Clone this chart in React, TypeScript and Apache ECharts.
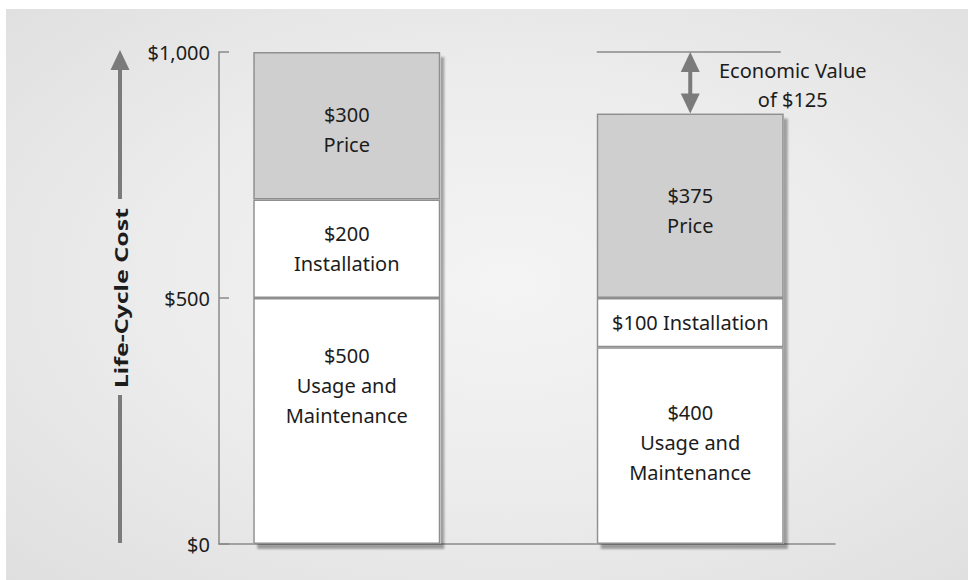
import React, { useEffect, useRef } from 'react';
import * as echarts from 'echarts';

const categories = ['Competitor', 'Our Product'];
const usageValues = [500, 400];
const installValues = [200, 100];
const priceValues = [300, 375];
const usageLabels = ['$500\nUsage and\nMaintenance', '$400\nUsage and\nMaintenance'];
const installLabels = ['$200\nInstallation', '$100 Installation'];
const priceLabels = ['$300\nPrice', '$375\nPrice'];
const yTicks = [0, 500, 1000];
const yTickLabels = ['$0', '$500', '$1,000'];
const yAxisTitle = 'Life-Cycle Cost';

export default function App() {
  const ref = useRef<HTMLDivElement>(null);
  useEffect(() => {
    const el = ref.current!;
    const chart = echarts.init(el, null, { renderer: 'svg' });
    const totals = categories.map((_, i) => usageValues[i] + installValues[i] + priceValues[i]);
    const economicValue = totals[0] - totals[1];
    const font = 'Noto Sans';
    const textColor = '#1c1c1c';
    const lineColor = '#8a8a8a';
    const arrowColor = '#7b7b7b';
    const barW = 187;
    const usageOffsets = [[0, -36], [0, -3]];
    const priceOffsets = [[0, 4], [0, 5]];

    const segStyle = (color: string) => ({ color, borderColor: '#8f8f8f', borderWidth: 1.5 });
    const labelBase = {
      show: true,
      position: 'inside',
      fontFamily: font,
      fontSize: 20,
      lineHeight: 30,
      color: textColor,
    };

    chart.setOption({
      animation: false,
      grid: [
        { left: 219, right: 133, top: 52, bottom: 36 },
        { left: 175, right: 106, top: 52, bottom: 36 },
      ],
      xAxis: [
        {
          type: 'category', gridIndex: 0, data: categories,
          axisLine: { show: true, lineStyle: { color: lineColor, width: 1.5 } },
          axisTick: { show: false }, axisLabel: { show: false },
        },
        { type: 'category', gridIndex: 1, data: categories, show: false },
      ],
      yAxis: [
        {
          type: 'value', gridIndex: 0, min: 0, max: 1000, interval: 500,
          splitLine: { show: false },
          axisLine: { show: true, lineStyle: { color: lineColor, width: 1.5 } },
          axisTick: { show: true, inside: true, length: 10, lineStyle: { color: lineColor, width: 1.5 } },
          axisLabel: {
            formatter: (v: number) => yTickLabels[yTicks.indexOf(v)] ?? '',
            fontFamily: font, fontSize: 20, color: textColor, margin: 9,
          },
        },
        { type: 'value', gridIndex: 1, min: 0, max: 1000, show: false },
      ],
      series: [
        {
          type: 'bar', name: 'Total', xAxisIndex: 1, yAxisIndex: 1,
          data: totals, barWidth: barW, barGap: '-100%', z: 1, silent: true,
          itemStyle: { color: '#ffffff', shadowColor: 'rgba(0,0,0,0.32)', shadowBlur: 2, shadowOffsetX: 4, shadowOffsetY: 5 },
        },
        {
          type: 'bar', name: 'Usage and Maintenance', stack: 'cost', xAxisIndex: 1, yAxisIndex: 1,
          barWidth: barW, barGap: '-100%', z: 2,
          data: usageValues.map((v, i) => ({ value: v, label: { formatter: usageLabels[i], offset: usageOffsets[i] } })),
          itemStyle: segStyle('#ffffff'), label: labelBase,
        },
        {
          type: 'bar', name: 'Installation', stack: 'cost', xAxisIndex: 1, yAxisIndex: 1,
          barWidth: barW, z: 2,
          data: installValues.map((v, i) => ({ value: v, label: { formatter: installLabels[i] } })),
          itemStyle: segStyle('#ffffff'), label: labelBase,
        },
        {
          type: 'bar', name: 'Price', stack: 'cost', xAxisIndex: 1, yAxisIndex: 1,
          barWidth: barW, z: 2,
          data: priceValues.map((v, i) => ({ value: v, label: { formatter: priceLabels[i], offset: priceOffsets[i] } })),
          itemStyle: segStyle('#cfcfcf'), label: labelBase,
        },
      ],
    });

    const yTop = chart.convertToPixel({ yAxisIndex: 0 } as any, 1000) as number;
    const yBottom = chart.convertToPixel({ yAxisIndex: 0 } as any, 0) as number;
    const pHigh = chart.convertToPixel({ gridIndex: 1 } as any, [1, totals[0]]) as number[];
    const pLow = chart.convertToPixel({ gridIndex: 1 } as any, [1, totals[1]]) as number[];
    const cx = pHigh[0];
    const ax = 120;
    const mid = (yTop + yBottom) / 2;
    const titleHalf = 89;

    chart.setOption({
      graphic: [
        { type: 'polygon', shape: { points: [[ax, yTop - 2], [ax - 9.5, yTop + 18], [ax + 9.5, yTop + 18]] }, style: { fill: arrowColor } },
        { type: 'line', shape: { x1: ax, y1: yTop + 16, x2: ax, y2: mid - titleHalf - 10 }, style: { stroke: arrowColor, lineWidth: 4 } },
        { type: 'line', shape: { x1: ax, y1: mid + titleHalf + 8, x2: ax, y2: yBottom - 1 }, style: { stroke: arrowColor, lineWidth: 4 } },
        {
          type: 'text', x: ax + 1, y: mid, rotation: Math.PI / 2, scaleX: 1.38,
          style: { text: yAxisTitle, fontFamily: font, fontWeight: 'bold', fontSize: 18, fill: textColor, align: 'center', verticalAlign: 'middle' },
        },
        { type: 'line', shape: { x1: cx - barW / 2, y1: pHigh[1], x2: cx + barW / 2 - 3, y2: pHigh[1] }, style: { stroke: lineColor, lineWidth: 1.5 } },
        { type: 'line', shape: { x1: cx, y1: pHigh[1] + 16, x2: cx, y2: pLow[1] - 16 }, style: { stroke: arrowColor, lineWidth: 4 } },
        { type: 'polygon', shape: { points: [[cx, pHigh[1]], [cx - 9.5, pHigh[1] + 20], [cx + 9.5, pHigh[1] + 20]] }, style: { fill: arrowColor } },
        { type: 'polygon', shape: { points: [[cx, pLow[1]], [cx - 9.5, pLow[1] - 20], [cx + 9.5, pLow[1] - 20]] }, style: { fill: arrowColor } },
        {
          type: 'text', x: cx + barW / 2 + 9, y: (pHigh[1] + pLow[1]) / 2 + 2,
          style: {
            text: 'Economic Value\nof $' + economicValue, fontFamily: font, fontSize: 20, lineHeight: 29,
            fill: textColor, align: 'center', verticalAlign: 'middle',
          },
        },
      ],
    });

    return () => chart.dispose();
  }, []);

  return (
    <div style={{ position: 'fixed', left: 0, top: 0, width: 968, height: 580, background: '#ffffff' }}>
      <div
        style={{
          position: 'absolute', left: 6, top: 9, right: 0, bottom: 0,
          background: 'radial-gradient(ellipse at 52% 48%, #f4f4f4 0%, #ececec 50%, #dfdfdf 100%)',
        }}
      />
      <div ref={ref} style={{ position: 'absolute', left: 0, top: 0, width: 968, height: 580 }} />
    </div>
  );
}
